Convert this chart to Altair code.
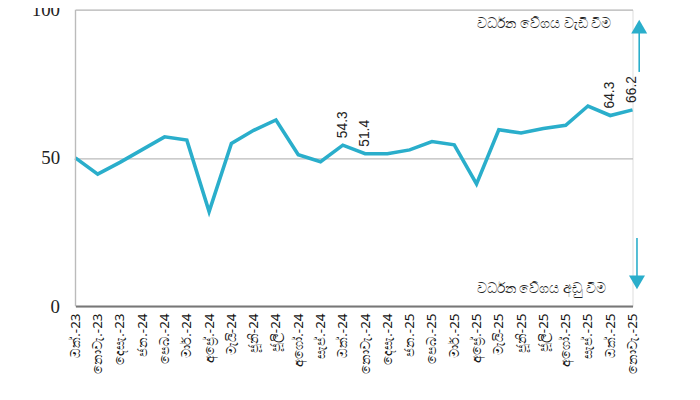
import altair as alt
import pandas as pd

months = ["ඔක්.-23", "නොවැ.-23", "දෙසැ.-23", "ජන.-24", "පෙබ.-24", "මාර්.-24",
          "අප්‍රේ.-24", "මැයි-24", "ජූනි-24", "ජූලි-24", "අගෝ.-24", "සැප්.-24",
          "ඔක්.-24", "නොවැ.-24", "දෙසැ.-24", "ජන.-25", "පෙබ.-25", "මාර්.-25",
          "අප්‍රේ.-25", "මැයි-25", "ජූනි-25", "ජූලි-25", "අගෝ.-25", "සැප්.-25",
          "ඔක්.-25", "නොවැ.-25"]
values = [50.0, 44.5, 48.5, 52.8, 57.1, 56.0, 31.9, 54.9, 59.3, 62.8, 51.1, 48.7,
          54.3, 51.4, 51.4, 52.7, 55.5, 54.4, 41.2, 59.5, 58.4, 59.9, 61.0, 67.5,
          64.3, 66.2]
labeled = ["ඔක්.-24", "නොවැ.-24", "ඔක්.-25", "නොවැ.-25"]

up_text = "වර්ධන වේගය වැඩි වීම"
down_text = "වර්ධන වේගය අඩු වීම"

df = pd.DataFrame({"month": months, "value": values})
df["label"] = [f"{v:.1f}" if m in labeled else "" for m, v in zip(months, values)]

color = "#2AAECB"

x = alt.X("month:O", sort=months, scale=alt.Scale(type="point", padding=0),
          axis=alt.Axis(labelAngle=-90, labelAlign="right", labelBaseline="middle",
                        labelFontSize=13.5, labelColor="#111", labelPadding=7,
                        labelOverlap=False, labelBound=False, labelFlush=False,
                        ticks=False, grid=False, domainColor="#777", domainWidth=2,
                        title=None, labelFont="Noto Sans"))
y = alt.Y("value:Q", scale=alt.Scale(domain=[0, 100]),
          axis=alt.Axis(values=[0, 50, 100], ticks=False, domain=False,
                        gridColor="#bbb", gridWidth=1.2, labelFont="Liberation Serif",
                        labelFontSize=19, labelColor="#222", labelPadding=16, title=None,
                        labelFlush=False))

base = alt.Chart(df)
line = base.mark_line(color=color, strokeWidth=3.6).encode(x=x, y=y)
lbls = base.mark_text(angle=270, align="left", baseline="middle", dx=7,
                      fontSize=14, font="Liberation Sans", color="#222").encode(
    x=alt.X("month:O", sort=months), y="value:Q", text="label:N")

main = alt.layer(line, lbls)

# annotation layer on a 0..25 index scale aligned with the month positions
ax = alt.X("x:Q", scale=alt.Scale(domain=[0, len(months) - 1], nice=False, zero=False), axis=None)
yaxis_line = alt.Chart(pd.DataFrame({"x": [0]})).mark_rule(color="#bbb", strokeWidth=1.2).encode(
    x=ax, y=alt.value(0), y2=alt.value(299))

arrows = pd.DataFrame({"x": [25.3, 25.2], "y1": [79, 23], "y2": [94, 8]})
arrow_lines = alt.Chart(arrows).mark_rule(color=color, strokeWidth=1.6).encode(
    x=ax, y="y1:Q", y2="y2:Q")
heads = pd.DataFrame({"x": [25.3, 25.2], "y": [94.3, 8.0], "shape": ["triangle-up", "triangle-down"]})
arrow_heads = alt.Chart(heads).mark_point(filled=True, color=color, opacity=1, size=260).encode(
    x=ax, y="y:Q", shape=alt.Shape("shape:N", scale=None))

notes = pd.DataFrame({"x": [24.05, 23.8], "y": [95, 5.6], "t": [up_text, down_text]})
note_text = alt.Chart(notes).mark_text(align="right", baseline="middle", fontSize=14.5,
                                       font="Noto Sans", color="#222").encode(
    x=ax, y="y:Q", text="t:N")

annot = alt.layer(yaxis_line, arrow_lines, arrow_heads, note_text)

chart = alt.layer(main, annot).resolve_scale(x="independent").properties(
    width=562, height=299, autosize=alt.AutoSizeParams(type="none"),
    padding={"left": 68, "top": 0, "right": 60, "bottom": 90}
).configure_view(stroke=None).configure(background="white")

chart.save("out.html", embed_options={"renderer": "svg", "actions": False})
